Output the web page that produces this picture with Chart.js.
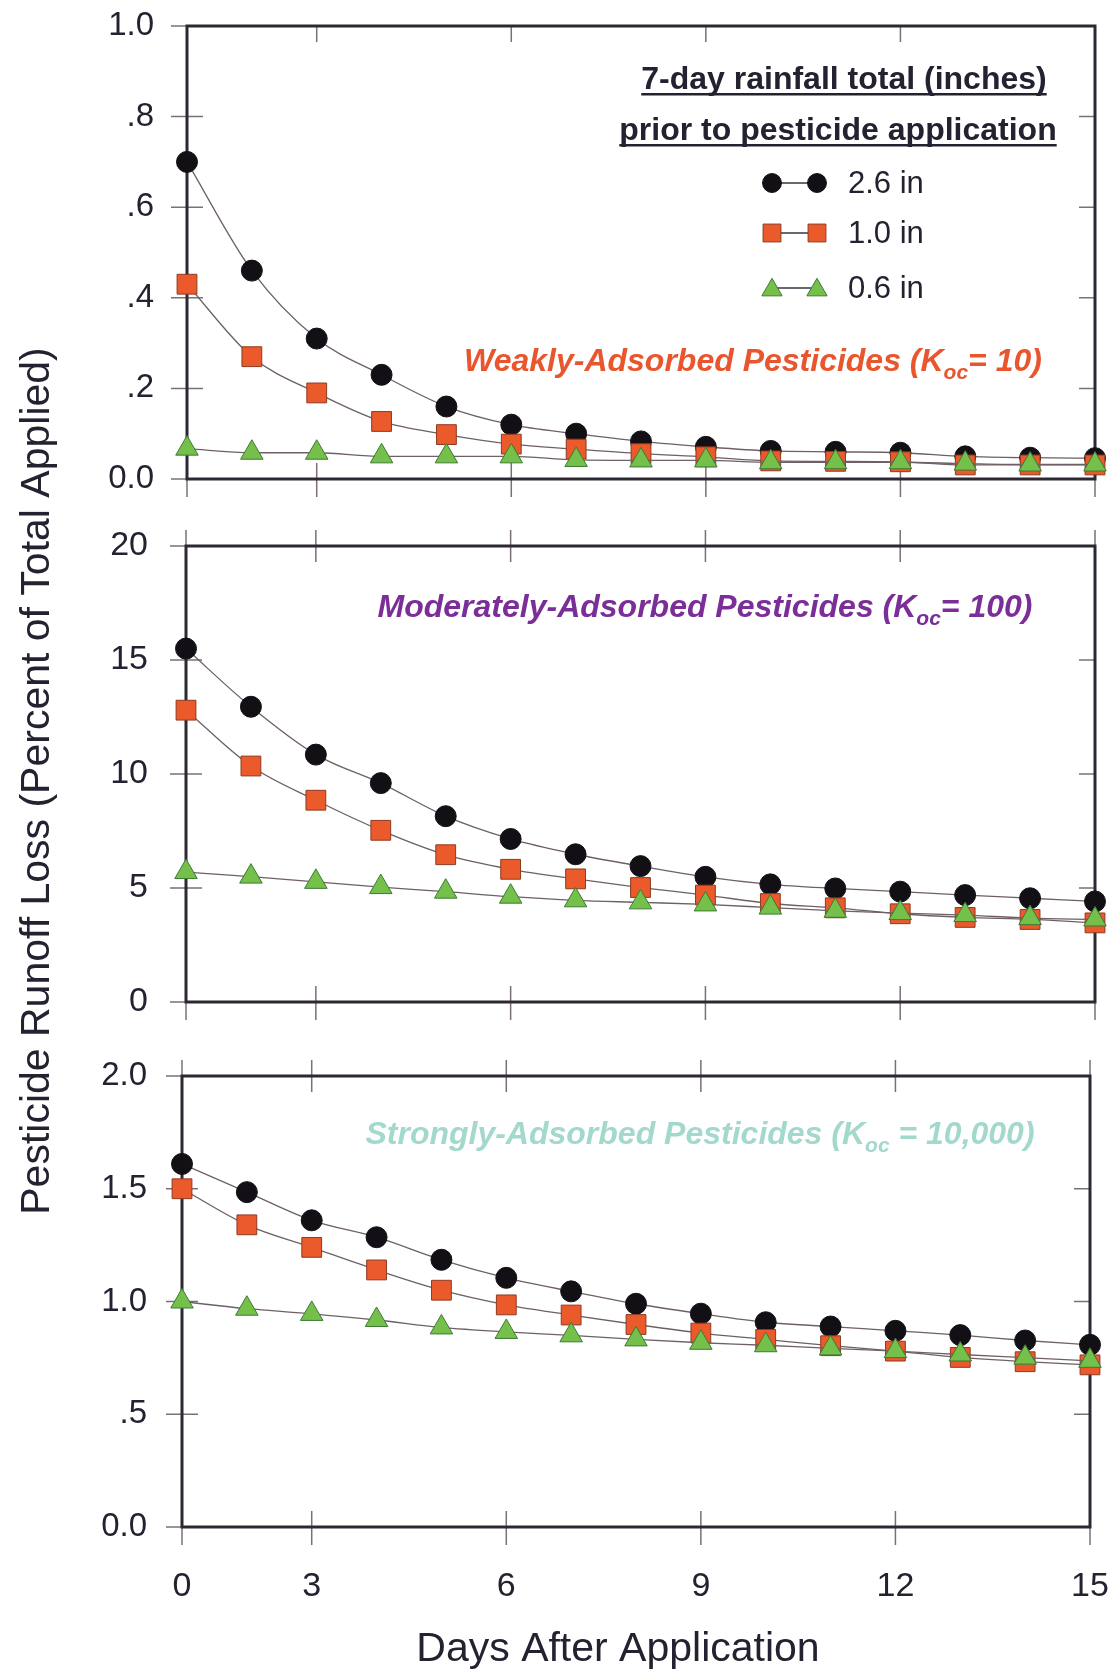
<!DOCTYPE html>
<html>
<head>
<meta charset="utf-8">
<script src="https://cdn.jsdelivr.net/npm/chart.js"></script>
<style>
  html, body { margin: 0; padding: 0; background: #fff; }
  #wrap { position: relative; width: 1112px; height: 1672px; overflow: hidden; background: #fff; }
  #wrap canvas { position: absolute; left: 0; top: 0; }
</style>
</head>
<body>
<div id="wrap">
  <canvas id="weak" width="1112" height="1672"></canvas>
  <canvas id="moderate" width="1112" height="1672"></canvas>
  <canvas id="strong" width="1112" height="1672"></canvas>
</div>
<script>
// jours (le premier point est étiqueté "0" sur l'axe)
const days = [1, 2, 3, 4, 5, 6, 7, 8, 9, 10, 11, 12, 13, 14, 15];
const dayTicks = [1, 3, 6, 9, 12, 15];
const dayTickLabels = ["0", "3", "6", "9", "12", "15"];
const rainLabels = ["2.6 in", "1.0 in", "0.6 in"];

// Koc = 10
const weak26 = [0.70, 0.46, 0.31, 0.23, 0.16, 0.12, 0.10, 0.083, 0.071, 0.062, 0.060, 0.058, 0.050, 0.047, 0.046];
const weak10 = [0.43, 0.27, 0.19, 0.127, 0.098, 0.077, 0.066, 0.056, 0.049, 0.040, 0.039, 0.038, 0.031, 0.031, 0.031];
const weak06 = [0.067, 0.058, 0.058, 0.050, 0.050, 0.050, 0.042, 0.041, 0.041, 0.037, 0.037, 0.037, 0.034, 0.032, 0.032];
const weakTicks = [0, 0.2, 0.4, 0.6, 0.8, 1.0];
const weakTickLabels = ["0.0", ".2", ".4", ".6", ".8", "1.0"];

// Koc = 100
const mod26 = [15.5, 12.95, 10.85, 9.6, 8.15, 7.15, 6.48, 5.96, 5.49, 5.16, 4.98, 4.84, 4.69, 4.55, 4.41];
const mod10 = [12.8, 10.35, 8.85, 7.53, 6.46, 5.82, 5.4, 5.02, 4.69, 4.32, 4.13, 3.87, 3.71, 3.62, 3.47];
const mod06 = [5.7, 5.5, 5.27, 5.04, 4.84, 4.62, 4.46, 4.37, 4.28, 4.14, 4.0, 3.9, 3.81, 3.68, 3.62];
const modTicks = [0, 5, 10, 15, 20];
const modTickLabels = ["0", "5", "10", "15", "20"];

// Koc = 10,000
const strong26 = [1.61, 1.485, 1.36, 1.285, 1.185, 1.105, 1.045, 0.99, 0.946, 0.908, 0.889, 0.87, 0.851, 0.827, 0.808];
const strong10 = [1.50, 1.34, 1.24, 1.14, 1.05, 0.985, 0.94, 0.898, 0.86, 0.832, 0.804, 0.78, 0.752, 0.733, 0.719];
const strong06 = [1.0, 0.968, 0.945, 0.918, 0.885, 0.865, 0.85, 0.832, 0.817, 0.806, 0.792, 0.78, 0.765, 0.751, 0.737];
const strongTicks = [0, 0.5, 1.0, 1.5, 2.0];
const strongTickLabels = ["0.0", ".5", "1.0", "1.5", "2.0"];

const W = 1112, H = 1672;
const FONT = '"Liberation Sans", Arial, Helvetica, sans-serif';
const INK = "#252131";
const X_AXIS_H = 80;

const seriesStyle = [
    { pointStyle: "circle", radius: 10.5, fill: "#121015", stroke: "#121015", order: 3 },
    { pointStyle: "rect", radius: 14, fill: "#ea5a2b", stroke: "#8e3a22", order: 2 },
    { pointStyle: "triangle", radius: 13, fill: "#74c04a", stroke: "#3d7a33", order: 1 }
];

function lineDatasets(series) {
    return series.map((vals, i) => {
        const s = seriesStyle[i];
        return {
            label: rainLabels[i],
            data: days.map((d, k) => ({ x: d, y: vals[k] })),
            order: s.order,
            pointStyle: s.pointStyle,
            pointRadius: s.radius,
            pointBackgroundColor: s.fill,
            pointBorderColor: s.stroke,
            pointBorderWidth: 1,
            borderColor: "#6e6064",
            borderWidth: 1.3,
            cubicInterpolationMode: "monotone",
            fill: false,
            clip: false
        };
    });
}

function drawMarker(ctx, ds, x, y, k) {
    const r = ds.pointRadius * k;
    ctx.save();
    ctx.fillStyle = ds.pointBackgroundColor;
    ctx.strokeStyle = ds.pointBorderColor;
    ctx.lineWidth = ds.pointBorderWidth;
    ctx.beginPath();
    if (ds.pointStyle === "circle") {
        ctx.arc(x, y, r, 0, Math.PI * 2);
    } else if (ds.pointStyle === "rect") {
        const h = r * Math.SQRT1_2;
        ctx.rect(x - h, y - h, 2 * h, 2 * h);
    } else {
        const sx = r * Math.sin(2 * Math.PI / 3);
        ctx.moveTo(x, y - r);
        ctx.lineTo(x + sx, y + r / 2);
        ctx.lineTo(x - sx, y + r / 2);
        ctx.closePath();
    }
    ctx.fill();
    ctx.stroke();
    ctx.restore();
}

// cadre + graduations (intérieur / extérieur)
const framePlugin = {
    id: "frame",
    beforeDatasetsDraw(chart, args, o) {
        const { ctx, chartArea: a, scales: { x, y } } = chart;
        ctx.save();
        ctx.strokeStyle = "#7a7075";
        ctx.lineWidth = 1.5;
        ctx.beginPath();
        o.yTicks.forEach(v => {
            const py = y.getPixelForValue(v);
            ctx.moveTo(a.left - 16, py); ctx.lineTo(a.left + 16, py);
            ctx.moveTo(a.right - 16, py); ctx.lineTo(a.right, py);
        });
        dayTicks.forEach(v => {
            const px = x.getPixelForValue(v);
            ctx.moveTo(px, a.bottom + 18); ctx.lineTo(px, a.bottom - 16);
            ctx.moveTo(px, a.top - o.topOut); ctx.lineTo(px, a.top + 16);
        });
        ctx.stroke();
        ctx.strokeStyle = "#2d2833";
        ctx.lineWidth = 3;
        ctx.strokeRect(a.left, a.top, a.right - a.left, a.bottom - a.top);
        ctx.restore();
    }
};

// texte avec indice (K_oc)
const notePlugin = {
    id: "notes",
    afterDraw(chart, args, o) {
        const ctx = chart.ctx;
        const n = o.note;
        if (!n) return;
        ctx.save();
        ctx.fillStyle = n.color;
        ctx.textBaseline = "alphabetic";
        ctx.textAlign = "left";
        const big = `italic bold ${n.size}px ${FONT}`;
        const small = `italic bold ${Math.round(n.size * 0.66)}px ${FONT}`;
        let total = 0;
        n.parts.forEach(p => { ctx.font = p.sub ? small : big; total += ctx.measureText(p.t).width; });
        let x = n.cx - total / 2;
        n.parts.forEach(p => {
            ctx.font = p.sub ? small : big;
            ctx.fillText(p.t, x, n.base + (p.sub ? n.size * 0.25 : 0));
            x += ctx.measureText(p.t).width;
        });
        ctx.restore();
    }
};

const legendPlugin = {
    id: "rainLegend",
    afterDraw(chart, args, o) {
        if (!o.show) return;
        const ctx = chart.ctx;
        ctx.save();
        ctx.fillStyle = INK;
        ctx.font = `bold 32px ${FONT}`;
        ctx.textAlign = "center";
        ctx.textBaseline = "alphabetic";
        ["7-day rainfall total (inches)", "prior to pesticide application"].forEach((t, i) => {
            const cx = o.titleX[i], by = o.titleBase[i];
            ctx.fillText(t, cx, by);
            const w = ctx.measureText(t).width;
            ctx.fillRect(cx - w / 2, by + 4, w, 2.5);
        });
        ctx.font = `31px ${FONT}`;
        ctx.textAlign = "left";
        ctx.textBaseline = "middle";
        chart.data.datasets.forEach((ds, i) => {
            const y = o.rowY[i];
            ctx.strokeStyle = "#3a3440";
            ctx.lineWidth = 1.5;
            ctx.beginPath();
            ctx.moveTo(o.markX[0], y);
            ctx.lineTo(o.markX[1], y);
            ctx.stroke();
            o.markX.forEach(mx => drawMarker(ctx, ds, mx, ds.pointStyle === "triangle" ? y + 2 : y, 0.9));
            ctx.fillStyle = INK;
            ctx.fillText(ds.label, o.textX, y + 1);
        });
        ctx.restore();
    }
};

const titlePlugin = {
    id: "axisTitles",
    afterDraw(chart, args, o) {
        if (!o.show) return;
        const ctx = chart.ctx;
        ctx.save();
        ctx.fillStyle = INK;
        ctx.font = `41px ${FONT}`;
        ctx.textAlign = "center";
        ctx.textBaseline = "middle";
        ctx.translate(38, 781);
        ctx.rotate(-Math.PI / 2);
        ctx.fillText("Pesticide Runoff Loss (Percent of Total Applied)", 0, 0);
        ctx.restore();
        ctx.save();
        ctx.fillStyle = INK;
        ctx.font = `41px ${FONT}`;
        ctx.textAlign = "center";
        ctx.textBaseline = "alphabetic";
        ctx.fillText("Days After Application", 618, 1661);
        ctx.restore();
    }
};

function makePanel(id, series, box, yTicks, yLabels, extra) {
    const showX = !!extra.showX;
    const xScale = {
        type: "linear", min: 1, max: 15, display: showX,
        afterBuildTicks: s => { s.ticks = dayTicks.map(v => ({ value: v })); },
        afterFit: s => {
            if (showX) s.height = X_AXIS_H;
            s.paddingLeft = 0; s.paddingRight = 0;
        },
        grid: { display: false, drawTicks: false },
        border: { display: false },
        ticks: {
            font: { family: FONT, size: 34 }, color: INK, padding: 39,
            maxRotation: 0, autoSkip: false,
            callback: (v, i) => dayTickLabels[i]
        }
    };
    return new Chart(document.getElementById(id), {
        type: "line",
        data: { datasets: lineDatasets(series) },
        options: {
            responsive: false,
            animation: false,
            devicePixelRatio: 1,
            events: [],
            layout: {
                autoPadding: false,
                padding: { left: 0, top: box.top, right: W - box.right, bottom: H - box.bottom - (showX ? X_AXIS_H : 0) }
            },
            plugins: {
                legend: { display: false },
                tooltip: { enabled: false },
                frame: { yTicks: yTicks, topOut: box.topOut },
                notes: { note: extra.note },
                rainLegend: extra.legend || { show: false },
                axisTitles: { show: showX }
            },
            scales: {
                x: xScale,
                y: {
                    min: yTicks[0], max: yTicks[yTicks.length - 1],
                    afterBuildTicks: s => { s.ticks = yTicks.map(v => ({ value: v })); },
                    afterFit: s => {
                        s.width = box.left;
                        s.paddingTop = 0; s.paddingBottom = 0;
                    },
                    grid: { display: false, drawTicks: false },
                    border: { display: false },
                    ticks: {
                        font: { family: FONT, size: box.tickSize }, color: INK,
                        padding: box.labelGap, autoSkip: false,
                        callback: (v, i) => yLabels[i]
                    }
                }
            }
        },
        plugins: [framePlugin, notePlugin, legendPlugin, titlePlugin]
    });
}

makePanel("weak", [weak26, weak10, weak06],
    { left: 187, right: 1095, top: 26, bottom: 479, topOut: 0, labelGap: 33, tickSize: 33 },
    weakTicks, weakTickLabels,
    {
        note: { color: "#e9552c", size: 32, cx: 753, base: 371,
            parts: [{ t: "Weakly-Adsorbed Pesticides (K" }, { t: "oc", sub: true }, { t: "= 10)" }] },
        legend: { show: true, titleX: [844, 838], titleBase: [89, 140],
            rowY: [183, 233, 288], markX: [772, 817], textX: 848 }
    });

makePanel("moderate", [mod26, mod10, mod06],
    { left: 186, right: 1095, top: 546, bottom: 1002, topOut: 16, labelGap: 38, tickSize: 34 },
    modTicks, modTickLabels,
    {
        note: { color: "#7b2d98", size: 32, cx: 705, base: 617,
            parts: [{ t: "Moderately-Adsorbed Pesticides (K" }, { t: "oc", sub: true }, { t: "= 100)" }] }
    });

makePanel("strong", [strong26, strong10, strong06],
    { left: 182, right: 1090, top: 1076, bottom: 1527, topOut: 16, labelGap: 35, tickSize: 33 },
    strongTicks, strongTickLabels,
    {
        showX: true,
        note: { color: "#a3d8cd", size: 32, cx: 700, base: 1144,
            parts: [{ t: "Strongly-Adsorbed Pesticides (K" }, { t: "oc", sub: true }, { t: " = 10,000)" }] }
    });
</script>
</body>
</html>
